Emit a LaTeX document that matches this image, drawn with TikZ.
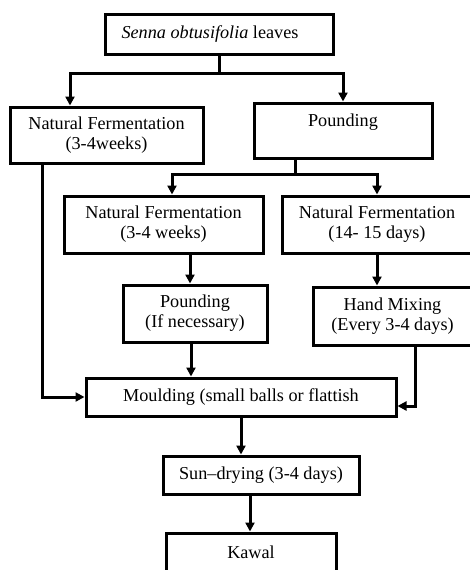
\documentclass[tikz,border=0pt]{standalone}
\usepackage{fontspec}
\setmainfont{Liberation Serif}
\usetikzlibrary{arrows.meta}
\begin{document}
\begin{tikzpicture}[x=1pt,y=-1pt,
  box/.style={draw=black,line width=3pt,rectangle,inner sep=0pt,align=center,
    font=\fontsize{18.2}{20}\selectfont},
  ln/.style={line width=3pt},
  arr/.style={line width=3pt,-{Triangle[length=9pt,width=9pt]}}]
\useasboundingbox (0,0) rectangle (469,570);
\node[box,minimum width=228pt,minimum height=40pt] (top) at (219,34) {\textit{Senna obtusifolia} leaves\hspace*{18pt}};
\node[box,minimum width=193pt,minimum height=56pt] (nfa) at (106.5,135) {Natural Fermentation\\(3-4weeks)};
\node[box,minimum width=178pt,minimum height=55pt] (pnd) at (343,130.5) {Pounding\\~};
\node[box,minimum width=199pt,minimum height=57pt] (nfb) at (163.5,224.5) {Natural Fermentation\\(3-4 weeks)};
\node[box,minimum width=190pt,minimum height=57pt] (nfc) at (377,224.5) {Natural Fermentation\\(14- 15 days)};
\node[box,minimum width=144pt,minimum height=57pt] (pnd2) at (195,313.5) {Pounding\\(If necessary)};
\node[box,minimum width=159pt,minimum height=58pt] (hm) at (392.5,316) {Hand Mixing\\(Every 3-4 days)};
\node[box,minimum width=310pt,minimum height=38pt] (mould) at (241,397) {Moulding (small balls or flattish};
\node[box,minimum width=196pt,minimum height=38pt] (sun) at (261,475) {Sun–drying (3-4 days)};
\node[box,minimum width=170pt,minimum height=58pt] (kawal) at (251,562) {Kawal\\~};
\coordinate (j1) at (219,73);
\coordinate (j2) at (295,174);
\draw[ln] (top.south) -- (j1);
\draw[arr] (j1) -| ([xshift=-36.5pt]nfa.north);
\draw[arr] (j1) -| (pnd.north);
\draw[ln] ([xshift=-48pt]pnd.south) -- (j2);
\draw[arr] (j2) -| ([xshift=8.5pt]nfb.north);
\draw[arr] (j2) -| (nfc.north);
\draw[arr] ([xshift=26.5pt]nfb.south) -- ([xshift=26.5pt]nfb.south |- pnd2.north);
\draw[arr] (nfc.south) -- (nfc.south |- hm.north);
\draw[arr] ([xshift=-4pt]pnd2.south) -- ([xshift=-4pt]pnd2.south |- mould.north);
\draw[arr] ([xshift=-64.5pt]nfa.south) |- (mould.west);
\draw[arr] ([xshift=22.5pt]hm.south) |- ([yshift=-9pt]mould.east);
\draw[arr] (mould.south) -- (mould.south |- sun.north);
\draw[arr] ([xshift=-11pt]sun.south) -- ([xshift=-11pt]sun.south |- kawal.north);
\end{tikzpicture}
\end{document}
